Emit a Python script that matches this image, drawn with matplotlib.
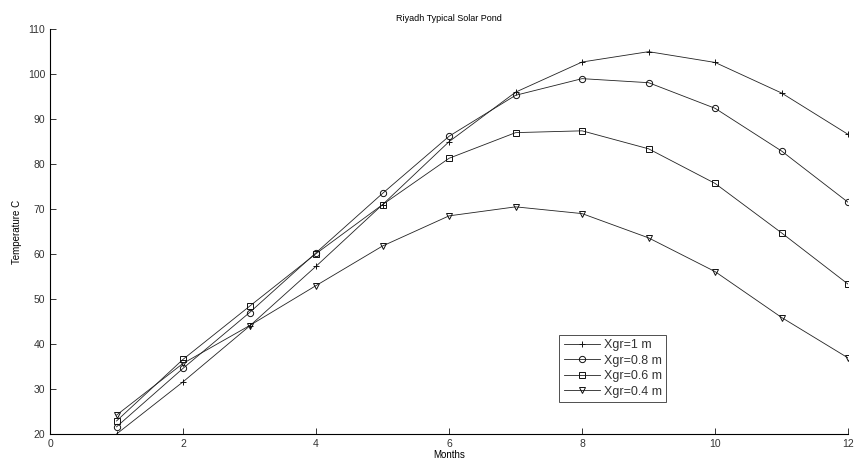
import matplotlib
matplotlib.use('Agg')
import matplotlib.pyplot as plt

plt.rcParams['font.family'] = ['Liberation Sans', 'DejaVu Sans']

months = [1, 2, 3, 4, 5, 6, 7, 8, 9, 10, 11, 12]
t_1m = [20.0, 31.6, 44.0, 57.3, 71.0, 85.0, 96.0, 102.7, 105.0, 102.6, 95.8, 86.6]
t_08m = [21.6, 34.6, 47.0, 60.3, 73.5, 86.2, 95.3, 99.0, 98.1, 92.4, 82.9, 71.5]
t_06m = [22.9, 36.6, 48.4, 60.1, 71.0, 81.3, 87.0, 87.4, 83.4, 75.7, 64.7, 53.3]
t_04m = [24.2, 35.7, 44.1, 53.0, 61.8, 68.5, 70.5, 69.0, 63.6, 56.1, 45.9, 36.9]

labels = ['Xgr=1 m', 'Xgr=0.8 m', 'Xgr=0.6 m', 'Xgr=0.4 m']
markers = ['+', 'o', 's', 'v']

fig = plt.figure(figsize=(8.55, 4.63), dpi=100)
ax = fig.add_axes([0.0585, 0.0626, 0.9335, 0.8744])

for ys, lab, m in zip([t_1m, t_08m, t_06m, t_04m], labels, markers):
    ax.plot(months, ys, color='#222222', linewidth=0.6, marker=m,
            markersize=5 if m == '+' else 4.5, markerfacecolor='none',
            markeredgecolor='#111111', markeredgewidth=0.7, label=lab)

ax.set_xlim(0, 12)
ax.set_ylim(20, 110)
ax.set_xticks(range(0, 13, 2))
ax.set_yticks(range(20, 111, 10))
ax.spines['top'].set_visible(False)
ax.spines['right'].set_visible(False)
ax.spines['left'].set_linewidth(0.8)
ax.spines['bottom'].set_linewidth(0.8)
ax.tick_params(direction='in', length=4, width=0.7, labelsize=7.5, colors='#333333')

ax.set_title('Riyadh Typical Solar Pond', fontsize=6.5, pad=6)
ax.set_xlabel('Months', fontsize=7, labelpad=1)
ax.set_ylabel('Temperature C', fontsize=7, labelpad=4)

leg = ax.legend(loc='upper left', bbox_to_anchor=(0.638, 0.245), fontsize=9,
                frameon=True, fancybox=False, borderpad=0.35, labelspacing=0.28,
                handlelength=2.9, handletextpad=0.3, borderaxespad=0)
leg.get_frame().set_edgecolor('#222222')
leg.get_frame().set_linewidth(0.7)
for t in leg.get_texts():
    t.set_color('#333333')

fig.savefig('out.png', dpi=100)
